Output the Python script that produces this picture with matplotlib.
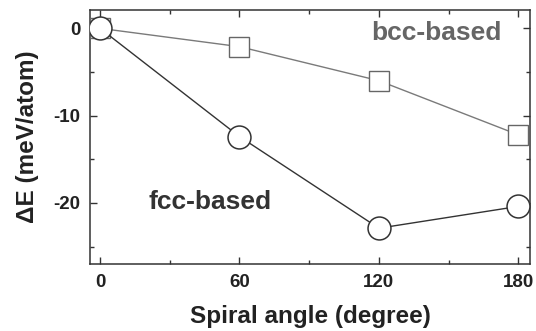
import numpy as np
import matplotlib.pyplot as plt
from matplotlib.ticker import MultipleLocator

plt.rcParams['font.family'] = ['Liberation Sans', 'DejaVu Sans']
plt.rcParams['font.weight'] = 'bold'
plt.rcParams['axes.unicode_minus'] = False

# dados
angulos = [0, 60, 120, 180]
fcc = [0.0, -12.4, -22.9, -20.4]
bcc = [0.0, -2.1, -6.0, -12.2]

fig = plt.figure(figsize=(5.36, 3.31), dpi=100)
ax = fig.add_axes([90 / 536, 1 - 264 / 331, 440 / 536, 254 / 331])

ax.plot(angulos, bcc, color='#7a7a7a', lw=1.0, marker='s', ms=14.5,
        mfc='white', mec='#666666', mew=1.0, zorder=3)
ax.plot(angulos, fcc, color='#333333', lw=1.0, marker='o', ms=16.5,
        mfc='white', mec='#333333', mew=1.1, zorder=4)

ax.text(0.935, 0.91, 'bcc-based', transform=ax.transAxes, ha='right', va='center',
        fontsize=19, fontweight='bold', color='#666666')
ax.text(0.132, 0.245, 'fcc-based', transform=ax.transAxes, ha='left', va='center',
        fontsize=19, fontweight='bold', color='#333333')

ax.set_xlim(-4.3, 185)
ax.set_ylim(-27.0, 2.1)
ax.set_xticks(angulos)
ax.xaxis.set_minor_locator(MultipleLocator(30))
ax.set_yticks([0, -10, -20])
ax.yaxis.set_minor_locator(MultipleLocator(5))

ax.tick_params(which='both', direction='in', top=True, right=True,
               color='#333333', width=1.0, labelsize=13.5, labelcolor='#222222')
ax.tick_params(which='major', length=5, pad=7)
ax.tick_params(which='minor', length=3)
for s in ax.spines.values():
    s.set_color('#333333')
    s.set_linewidth(1.1)

ax.set_xlabel('Spiral angle (degree)', fontsize=17.5, fontweight='bold',
              color='#222222', labelpad=10)
ax.set_ylabel('ΔE (meV/atom)', fontsize=17.5, fontweight='bold',
              color='#222222', labelpad=10)

fig.savefig('out.png', dpi=100)
